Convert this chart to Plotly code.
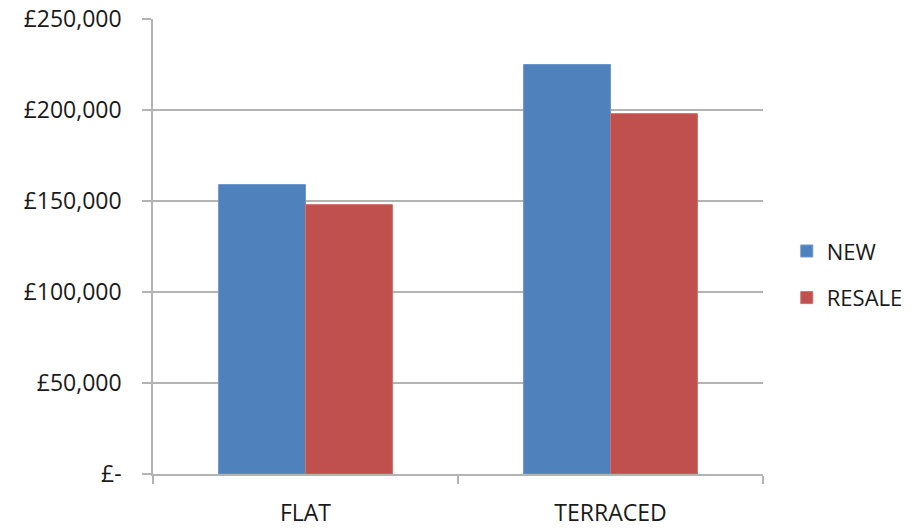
import plotly.graph_objects as go

categories = ["FLAT", "TERRACED"]
new_values = [159000, 225000]
resale_values = [148000, 198000]
series_names = ["NEW", "RESALE"]
tick_values = [0, 50000, 100000, 150000, 200000, 250000]
tick_labels = ["£-", "£50,000", "£100,000", "£150,000", "£200,000", "£250,000"]

FONT = "Open Sans"
TXT = "#1a1a1a"
GRID = "#b3b3b3"

fig = go.Figure()
fig.add_trace(go.Bar(x=categories, y=new_values, name=series_names[0],
                     marker=dict(color="#4F81BD", line=dict(color="#6f97cc", width=1)),
                     legendgroup="a"))
fig.add_trace(go.Bar(x=categories, y=resale_values, name=series_names[1],
                     marker=dict(color="#C0504D", line=dict(color="#cf6e6b", width=1)),
                     legendgroup="b"))

fig.update_layout(
    width=919, height=529,
    margin=dict(l=153, r=156, t=19, b=55, autoexpand=False),
    paper_bgcolor="white", plot_bgcolor="white",
    barmode="group", bargap=0.43, bargroupgap=0,
    font=dict(family=FONT, size=23, color=TXT),
    showlegend=True,
    legend=dict(x=1.039, y=0.438, xanchor="left", yanchor="middle",
                font=dict(family=FONT, size=22, color=TXT),
                tracegroupgap=15, traceorder="grouped",
                bgcolor="rgba(0,0,0,0)"),
    xaxis=dict(type="category", showline=True, linecolor=GRID, linewidth=1.5,
               ticks="outside", tickson="boundaries", ticklen=8, tickcolor=GRID,
               tickwidth=1.5, showgrid=False,
               tickfont=dict(family=FONT, size=23, color=TXT),
               ticklabelstandoff=18),
    yaxis=dict(range=[0, 250000], tickvals=tick_values, ticktext=tick_labels,
               showline=True, linecolor=GRID, linewidth=1.5,
               showgrid=True, gridcolor=GRID, gridwidth=1.5,
               ticks="outside", ticklen=9, tickcolor=GRID, tickwidth=1.5,
               zeroline=False,
               tickfont=dict(family=FONT, size=23, color=TXT),
               ticklabelstandoff=16),
)

fig.write_html("out.html",
               config={"displayModeBar": False},
               post_script="document.body.style.margin='0';document.body.style.overflow='hidden';")
